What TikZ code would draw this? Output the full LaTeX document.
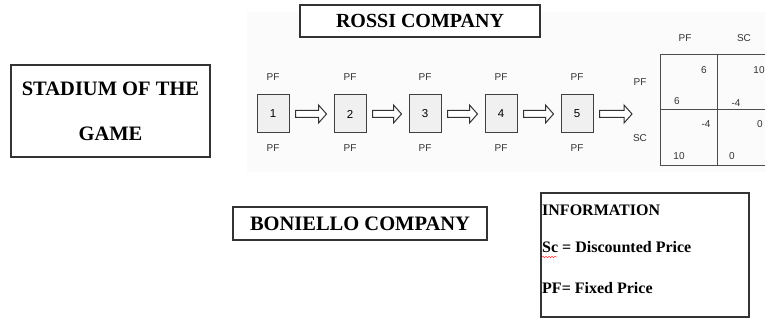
\documentclass[tikz,border=0pt]{standalone}
\usepackage{fontspec}
\setmainfont{Liberation Serif}
\newfontfamily\scanfont{Liberation Sans}
\usetikzlibrary{calc,decorations.pathmorphing}
\tikzset{
  titlebox/.style={draw=black!80, line width=1.2pt, fill=white, inner sep=0pt,
    font=\fontsize{20}{22}\selectfont\bfseries},
  stepbox/.style={draw=black!75, line width=1pt, fill=gray!12, inner sep=0pt,
    minimum width=32, minimum height=38, font=\scanfont\fontsize{11.5}{12}\selectfont},
  lab/.style={inner sep=0pt, text=black!80, font=\scanfont\fontsize{10}{11}\selectfont},
  arrowline/.style={draw=black!80, line width=1pt, fill=white, line join=miter},
  gridline/.style={draw=black!70, line width=1pt},
  infotext/.style={inner sep=0pt, anchor=west, font=\fontsize{16}{18}\selectfont\bfseries}
}
\newcommand\hollowarrow[2]{%
  \draw[arrowline] ($(#1)+(6,-3.5)$) -- ($(#2)+(-15,-3.5)$) -- ($(#2)+(-15,-9)$)
    -- ($(#2)+(-7,0)$) -- ($(#2)+(-15,9)$) -- ($(#2)+(-15,3.5)$)
    -- ($(#1)+(6,3.5)$) -- cycle;}
\begin{document}
\begin{tikzpicture}[x=1pt,y=-1pt]
\useasboundingbox (0,0) rectangle (765,320);
\clip (0,0) rectangle (765,320);
\fill[gray!3] (247,12) rectangle (765,172);

% title boxes
\node[titlebox, minimum width=199, minimum height=92, align=center,
  font=\fontsize{20.5}{45}\selectfont\bfseries] (stadium) at (110.5,111) {STADIUM OF THE\\GAME};
\node[titlebox, minimum width=240, minimum height=32] (rossi) at (420,21) {ROSSI COMPANY};
\node[titlebox, minimum width=254, minimum height=33, font=\fontsize{20.5}{22}\selectfont\bfseries] (boniello) at (360,223.5) {BONIELLO COMPANY};

% steps
\foreach \i/\x in {1/273,2/350,3/425,4/501,5/577} {
  \node[stepbox] (b\i) at (\x,114) {\i};
  \node[lab] (pt\i) at (\x,77) {PF};
  \node[lab] (pb\i) at (\x,148) {PF};
}
\coordinate (mend) at (639,114);
\foreach \a/\b in {b1.east/b2.west,b2.east/b3.west,b3.east/b4.west,b4.east/b5.west,b5.east/mend} {
  \hollowarrow{\a}{\b}
}

% payoff matrix
\draw[gridline] (765,55) -- (660,55) -- (660,166) -- (765,166);
\draw[gridline] (660,110) -- (765,110);
\draw[gridline] (717,55) -- (717,166);
\node[lab] (cpf) at (685,38) {PF};
\node[lab] (csc) at (744,38) {SC};
\node[lab] (rpf) at (640,82) {PF};
\node[lab] (rsc) at (640,138) {SC};
\node[lab] (a1) at (704,70) {6};
\node[lab] (a2) at (677,101) {6};
\node[lab] (a3) at (759,70) {10};
\node[lab] (a4) at (736,103) {-4};
\node[lab] (a5) at (706,124) {-4};
\node[lab] (a6) at (760,124) {0};
\node[lab] (a7) at (679,156) {10};
\node[lab] (a8) at (732,156) {0};

% information box
\node[draw=black!80, line width=1.2pt, minimum width=208, minimum height=124, inner sep=0pt] (info) at (645,255) {};
\node[infotext] (i1) at (542,210) {INFORMATION};
\node[infotext] (i2) at (542,247) {Sc = Discounted Price};
\node[infotext] (i3) at (542,288) {PF= Fixed Price};
\draw[red!80, line width=0.5pt, decorate, decoration={snake, amplitude=0.7pt, segment length=3pt}]
  (542,257) -- (557,257);
\end{tikzpicture}
\end{document}
